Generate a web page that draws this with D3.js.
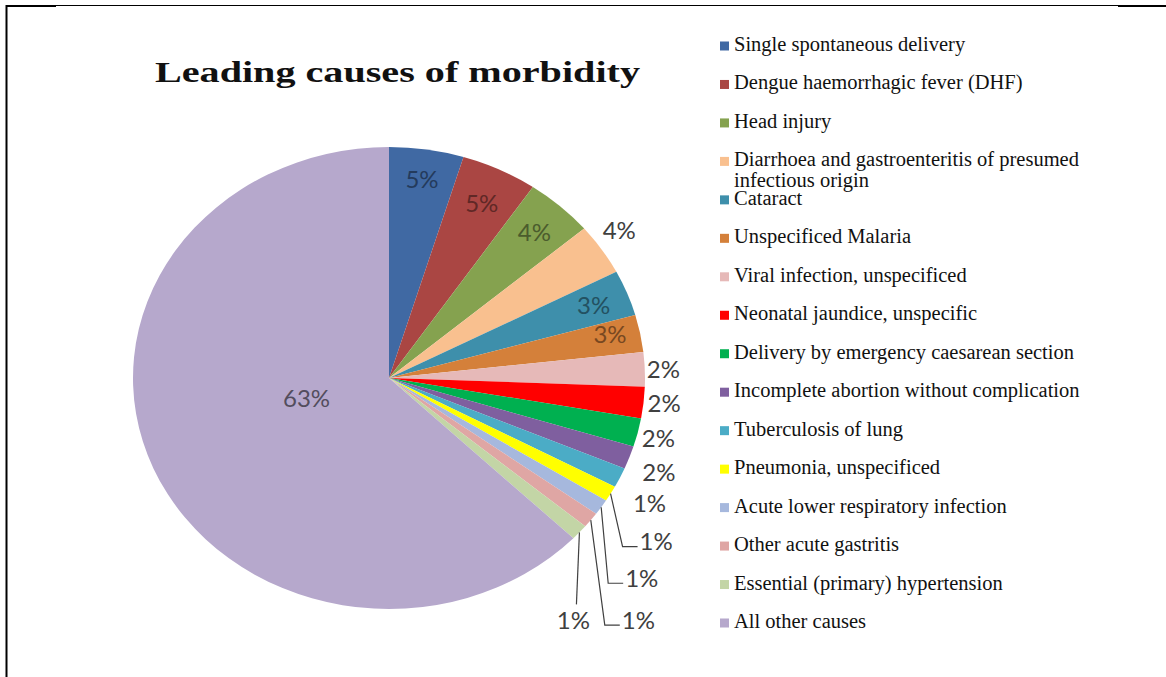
<!DOCTYPE html>
<html lang="en">
<head>
<meta charset="utf-8">
<script src="https://d3js.org/d3.v7.min.js"></script>
<title>Leading causes of morbidity</title>
<style>
body{
margin:0;
background:#ffffff;
}
svg{
display:block;
}
</style>
</head>
<body>
<svg width="1166" height="677"></svg>

<script>
// data (percent of cases)
var categories = [
  "Single spontaneous delivery",
  "Dengue haemorrhagic fever (DHF)",
  "Head injury",
  "Diarrhoea and gastroenteritis of presumed infectious origin",
  "Cataract",
  "Unspecificed Malaria",
  "Viral infection, unspecificed",
  "Neonatal jaundice, unspecific",
  "Delivery by emergency caesarean section",
  "Incomplete abortion without complication",
  "Tuberculosis of lung",
  "Pneumonia, unspecificed",
  "Acute lower respiratory infection",
  "Other acute gastritis",
  "Essential (primary) hypertension",
  "All other causes"
];
var values = [4.7, 4.8, 4.3, 3.6, 3.2, 2.6, 2.4, 2.2, 2.0, 1.6, 1.4, 1.1, 1.1, 1.1, 1.1, 62.8];
var colors = ["#4069a3","#aa4643","#85a24f","#f9c08f","#3e8fab","#d4803a","#e6b9b8","#ff0000",
              "#00b050","#7f5f9f","#4bacc6","#ffff00","#a6b8dd","#dfa6a4","#c3d5a6","#b6a8cc"];

// where each data label goes (Excel "best fit" placement)
var labelLayout = [
  {mode:"in", f:0.875},
  {mode:"in", f:0.84},
  {mode:"in", f:0.85},
  {mode:"out", dx:1, dy:-20},
  {mode:"in", f:0.86},
  {mode:"in", f:0.88, dy:-5},
  {mode:"out", dx:2, dy:-1},
  {mode:"out", dx:4, dy:0},
  {mode:"out", dx:4, dy:5},
  {mode:"out", dx:13, dy:14},
  {mode:"out", dx:13, dy:25},
  {mode:"leader", dx:29, dy:47},
  {mode:"leader", dx:24, dy:70},
  {mode:"leader", dx:31, dy:99},
  {mode:"below", dx:-6, dy:87},
  {mode:"in", f:0.35, dy:-12}
];

var cx = 389, cy = 378;
var rx = 256, ry = 231;   // chart was stretched sideways

var svg = d3.select("svg");

// frame
svg.append("line").attr("x1",6.5).attr("x2",6.5).attr("y1",5).attr("y2",677)
.attr("stroke","#000").attr("stroke-width",2);
svg.append("line").attr("x1",6).attr("x2",56).attr("y1",6).attr("y2",6)
.attr("stroke","#000").attr("stroke-width",2);
svg.append("line").attr("x1",56).attr("x2",1118).attr("y1",5.5).attr("y2",5.5)
.attr("stroke","#000").attr("stroke-width",1);
svg.append("line").attr("x1",1118).attr("x2",1166).attr("y1",6).attr("y2",6)
.attr("stroke","#000").attr("stroke-width",2);

// title
svg.append("text")
.attr("x",155)
.attr("y",82)
.attr("font-family","'Liberation Serif', 'Times New Roman', serif")
.attr("font-weight",700)
.attr("font-size",30)
.attr("textLength",485)
.attr("lengthAdjust","spacingAndGlyphs")
.attr("fill","#111")
.text("Leading causes of morbidity");

var color = d3.scaleOrdinal().domain(categories).range(colors);

var pie = d3.pie().sort(null).value(function(d){return d.value});
var arcs = pie(categories.map(function(c,i){return {name:c, value:values[i], i:i}}));

var arc = d3.arc().innerRadius(0).outerRadius(ry);

svg.append("g")
.attr("transform","translate("+cx+","+cy+") scale("+(rx/ry)+",1)")
.selectAll("path")
.data(arcs).enter()
.append("path")
.attr("d",arc)
.attr("fill",function(d){return color(d.data.name)});

function edge(a,f){
  return [cx + rx*f*Math.sin(a), cy - ry*f*Math.cos(a)];
}

var labelFont = "Lato, 'Open Sans', sans-serif";

arcs.forEach(function(d,i){
  var L = labelLayout[i];
  var mid = (d.startAngle + d.endAngle)/2;
  var txt = Math.round(d.data.value) + "%";
  var p, anchor = "start", fill = "#404040";

  if (L.mode == "in"){
    p = edge(mid, L.f);
    p = [p[0] + (L.dx||0), p[1] + (L.dy||0)];
    anchor = "middle";
    fill = d3.color(color(d.data.name)).darker(i==15 ? 2.2 : 1.6).formatHex();
  }
  else {
    var e = edge(mid,1);
    p = [e[0] + L.dx, e[1] + L.dy];
    if (L.mode == "leader"){
      svg.append("polyline")
      .attr("points",[e, [p[0]-17,p[1]+6], [p[0]-2,p[1]+6]].map(function(q){return q.join(",")}).join(" "))
      .attr("fill","none")
      .attr("stroke","#404040")
      .attr("stroke-width",1.2);
    }
    if (L.mode == "below"){
      anchor = "middle";
      svg.append("line")
      .attr("x1",e[0]).attr("y1",e[1])
      .attr("x2",p[0]+3).attr("y2",p[1]-15)
      .attr("stroke","#404040")
      .attr("stroke-width",1.2);
    }
  }

  svg.append("text")
  .attr("x",p[0])
  .attr("y",p[1])
  .attr("text-anchor",anchor)
  .attr("dominant-baseline","central")
  .attr("font-family",labelFont)
  .attr("font-size",24)
  .attr("fill",fill)
  .text(txt);
});

// legend
var legendY = d3.scalePoint().domain(categories).range([51,628]);

var legend = svg.append("g").selectAll("g")
.data(categories).enter()
.append("g")
.attr("transform",function(d){return "translate(0,"+legendY(d)+")"});

legend.append("rect")
.attr("x",720)
.attr("y",-9.5)
.attr("width",9)
.attr("height",9)
.attr("fill",function(d){return color(d)});

legend.append("text")
.attr("x",734)
.attr("y",0)
.attr("font-family","'Liberation Serif', 'Times New Roman', serif")
.attr("font-size",20.5)
.attr("fill","#111")
.each(function(d){
  var t = d3.select(this);
  var words = d.split(" ");
  var line = [];
  var ts = t.append("tspan").attr("x",734).attr("dy",0);
  words.forEach(function(w){
    line.push(w);
    ts.text(line.join(" "));
    if (ts.node().getComputedTextLength() > 352 && line.length > 1){
      line.pop();
      ts.text(line.join(" "));
      line = [w];
      ts = t.append("tspan").attr("x",734).attr("dy",21).text(w);
    }
  });
});
</script>
</body>
</html>
